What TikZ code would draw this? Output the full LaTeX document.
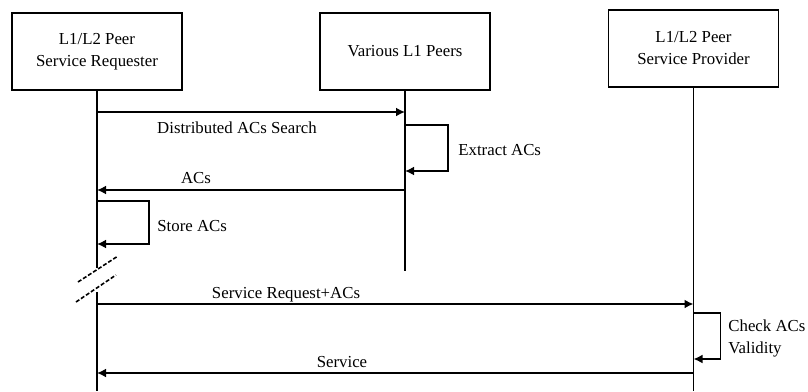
\documentclass[tikz,border=0pt]{standalone}
\usepackage{fontspec}
\setmainfont{Liberation Serif}
\usetikzlibrary{arrows.meta, positioning}

\tikzset{
 peer/.style = {draw, line width=0.9pt, minimum width=85pt, minimum height=38.5pt,
   align=center, font=\fontsize{8.4}{11}\selectfont},
 life/.style = {line width=0.9pt},
 msg/.style = {line width=0.9pt, -{Latex[length=4.5pt, width=4.5pt]}},
 lbl/.style = {font=\fontsize{8.4}{11}\selectfont, inner sep=0pt, align=left},
 cut/.style = {line width=0.8pt, dash pattern=on 2pt off 1pt},
}

\begin{document}
\begin{tikzpicture}[x=0.5pt, y=-0.5pt]
 \useasboundingbox (0,0) rectangle (808,391);

 % the three peers
 \node[peer] (req) at (97,51.5) {L1/L2 Peer\\Service Requester};
 \node[peer] (l1) at (405,51.5) {Various L1 Peers};
 \node[peer] (prov) at (693.5,48.5) {L1/L2 Peer\\Service Provider};

 % lifelines
 \draw[life] (req.south) -- (req.south |- 0,268);
 \draw[life] (req.south |- 0,292) -- (req.south |- 0,391);
 \draw[life] (l1.south) -- (l1.south |- 0,271);
 \draw[life] (prov.south) -- (prov.south |- 0,391);

 % break marks
 \draw[cut] (78,282) -- (118,256);
 \draw[cut] (76,302) -- (116,275);

 % search for the ACs
 \draw[msg] (req.south |- 0,112) -- (l1.south |- 0,112);
 \node[lbl] (search) at (237,128) {Distributed ACs Search};

 \draw[msg] (l1.south |- 0,125) -- ++(43,0) |- (l1.south |- 0,171);
 \node[lbl, anchor=west] (extract) at (458,150) {Extract ACs};

 \draw[msg] (l1.south |- 0,190) -- (req.south |- 0,190);
 \node[lbl] (acs) at (196,178) {ACs};

 \draw[msg] (req.south |- 0,201) -- ++(52,0) |- (req.south |- 0,244);
 \node[lbl, anchor=west] (store) at (157,226) {Store ACs};

 % service request
 \draw[msg] (req.south |- 0,304) -- (prov.south |- 0,304);
 \node[lbl] (request) at (286,295) {Service Request+ACs};

 \draw[msg] (prov.south |- 0,313) -- ++(27,0) |- (prov.south |- 0,359);
 \node[lbl, anchor=west] (check) at (728,338) {Check ACs\\Validity};

 \draw[msg] (prov.south |- 0,373) -- (req.south |- 0,373);
 \node[lbl] (service) at (342,362) {Service};
\end{tikzpicture}
\end{document}
